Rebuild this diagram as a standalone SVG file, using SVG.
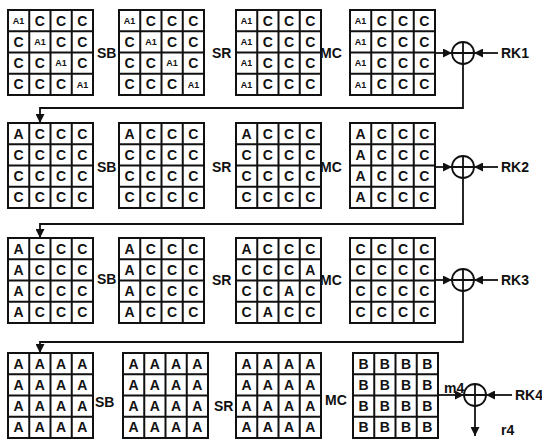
<svg xmlns="http://www.w3.org/2000/svg" xmlns:xlink="http://www.w3.org/1999/xlink" width="542" height="441" viewBox="0 0 542 441">
<style>
text{font-family:"Liberation Sans",Arial,sans-serif;font-weight:bold;fill:#111}
.c{font-size:14px;text-anchor:middle}
.a{font-size:9px;text-anchor:middle}
.l{font-size:14px}
.ln{stroke:#111;stroke-width:1.8;fill:none}
.x{fill:#fff;stroke:#111;stroke-width:1.8}
</style>
<defs>
<g id="grid">
<rect x="0" y="0" width="85" height="85" fill="#fff" stroke="#111" stroke-width="2"/>
<path d="M21.25 0V85M42.5 0V85M63.75 0V85M0 21.25H85M0 42.5H85M0 63.75H85" stroke="#111" stroke-width="2"/>
</g>
<marker id="ah" viewBox="0 0 10 10" refX="10" refY="5" markerWidth="5" markerHeight="5" orient="auto" markerUnits="strokeWidth">
<path d="M0 0L10 5L0 10z" fill="#111"/>
</marker>
</defs>

<!-- Row 1 -->
<g id="r1g1" transform="translate(8,10)"><use xlink:href="#grid"/>
<text class="a" x="10.6" y="13.9">A1</text><text class="c" x="31.9 53.1 74.4" y="15.6">CCC</text>
<text class="c" x="10.6" y="36.9">C</text><text class="a" x="31.9" y="35.2">A1</text><text class="c" x="53.1 74.4" y="36.9">CC</text>
<text class="c" x="10.6 31.9" y="58.1">CC</text><text class="a" x="53.1" y="56.4">A1</text><text class="c" x="74.4" y="58.1">C</text>
<text class="c" x="10.6 31.9 53.1" y="79.4">CCC</text><text class="a" x="74.4" y="77.7">A1</text>
</g>
<g id="r1g2" transform="translate(119,10)"><use xlink:href="#grid"/>
<text class="a" x="10.6" y="13.9">A1</text><text class="c" x="31.9 53.1 74.4" y="15.6">CCC</text>
<text class="c" x="10.6" y="36.9">C</text><text class="a" x="31.9" y="35.2">A1</text><text class="c" x="53.1 74.4" y="36.9">CC</text>
<text class="c" x="10.6 31.9" y="58.1">CC</text><text class="a" x="53.1" y="56.4">A1</text><text class="c" x="74.4" y="58.1">C</text>
<text class="c" x="10.6 31.9 53.1" y="79.4">CCC</text><text class="a" x="74.4" y="77.7">A1</text>
</g>
<g id="r1g3" transform="translate(236,10)"><use xlink:href="#grid"/>
<text class="a" x="10.6" y="13.9">A1</text><text class="c" x="31.9 53.1 74.4" y="15.6">CCC</text>
<text class="a" x="10.6" y="35.2">A1</text><text class="c" x="31.9 53.1 74.4" y="36.9">CCC</text>
<text class="a" x="10.6" y="56.4">A1</text><text class="c" x="31.9 53.1 74.4" y="58.1">CCC</text>
<text class="a" x="10.6" y="77.7">A1</text><text class="c" x="31.9 53.1 74.4" y="79.4">CCC</text>
</g>
<g id="r1g4" transform="translate(350,10)"><use xlink:href="#grid"/>
<text class="a" x="10.6" y="13.9">A1</text><text class="c" x="31.9 53.1 74.4" y="15.6">CCC</text>
<text class="a" x="10.6" y="35.2">A1</text><text class="c" x="31.9 53.1 74.4" y="36.9">CCC</text>
<text class="a" x="10.6" y="56.4">A1</text><text class="c" x="31.9 53.1 74.4" y="58.1">CCC</text>
<text class="a" x="10.6" y="77.7">A1</text><text class="c" x="31.9 53.1 74.4" y="79.4">CCC</text>
</g>

<!-- Row 2 -->
<g id="r2g1" transform="translate(8,123)"><use xlink:href="#grid"/>
<text class="c" x="10.6 31.9 53.1 74.4" y="15.6">ACCC</text>
<text class="c" x="10.6 31.9 53.1 74.4" y="36.9">CCCC</text>
<text class="c" x="10.6 31.9 53.1 74.4" y="58.1">CCCC</text>
<text class="c" x="10.6 31.9 53.1 74.4" y="79.4">CCCC</text>
</g>
<g id="r2g2" transform="translate(119,123)"><use xlink:href="#grid"/>
<text class="c" x="10.6 31.9 53.1 74.4" y="15.6">ACCC</text>
<text class="c" x="10.6 31.9 53.1 74.4" y="36.9">CCCC</text>
<text class="c" x="10.6 31.9 53.1 74.4" y="58.1">CCCC</text>
<text class="c" x="10.6 31.9 53.1 74.4" y="79.4">CCCC</text>
</g>
<g id="r2g3" transform="translate(236,123)"><use xlink:href="#grid"/>
<text class="c" x="10.6 31.9 53.1 74.4" y="15.6">ACCC</text>
<text class="c" x="10.6 31.9 53.1 74.4" y="36.9">CCCC</text>
<text class="c" x="10.6 31.9 53.1 74.4" y="58.1">CCCC</text>
<text class="c" x="10.6 31.9 53.1 74.4" y="79.4">CCCC</text>
</g>
<g id="r2g4" transform="translate(350,123)"><use xlink:href="#grid"/>
<text class="c" x="10.6 31.9 53.1 74.4" y="15.6">ACCC</text>
<text class="c" x="10.6 31.9 53.1 74.4" y="36.9">ACCC</text>
<text class="c" x="10.6 31.9 53.1 74.4" y="58.1">ACCC</text>
<text class="c" x="10.6 31.9 53.1 74.4" y="79.4">ACCC</text>
</g>

<!-- Row 3 -->
<g id="r3g1" transform="translate(8,238)"><use xlink:href="#grid"/>
<text class="c" x="10.6 31.9 53.1 74.4" y="15.6">ACCC</text>
<text class="c" x="10.6 31.9 53.1 74.4" y="36.9">ACCC</text>
<text class="c" x="10.6 31.9 53.1 74.4" y="58.1">ACCC</text>
<text class="c" x="10.6 31.9 53.1 74.4" y="79.4">ACCC</text>
</g>
<g id="r3g2" transform="translate(119,238)"><use xlink:href="#grid"/>
<text class="c" x="10.6 31.9 53.1 74.4" y="15.6">ACCC</text>
<text class="c" x="10.6 31.9 53.1 74.4" y="36.9">ACCC</text>
<text class="c" x="10.6 31.9 53.1 74.4" y="58.1">ACCC</text>
<text class="c" x="10.6 31.9 53.1 74.4" y="79.4">ACCC</text>
</g>
<g id="r3g3" transform="translate(236,238)"><use xlink:href="#grid"/>
<text class="c" x="10.6 31.9 53.1 74.4" y="15.6">ACCC</text>
<text class="c" x="10.6 31.9 53.1 74.4" y="36.9">CCCA</text>
<text class="c" x="10.6 31.9 53.1 74.4" y="58.1">CCAC</text>
<text class="c" x="10.6 31.9 53.1 74.4" y="79.4">CACC</text>
</g>
<g id="r3g4" transform="translate(350,238)"><use xlink:href="#grid"/>
<text class="c" x="10.6 31.9 53.1 74.4" y="15.6">CCCC</text>
<text class="c" x="10.6 31.9 53.1 74.4" y="36.9">CCCC</text>
<text class="c" x="10.6 31.9 53.1 74.4" y="58.1">CCCC</text>
<text class="c" x="10.6 31.9 53.1 74.4" y="79.4">CCCC</text>
</g>

<!-- Row 4 -->
<g id="r4g1" transform="translate(8,353)"><use xlink:href="#grid"/>
<text class="c" x="10.6 31.9 53.1 74.4" y="15.6">AAAA</text>
<text class="c" x="10.6 31.9 53.1 74.4" y="36.9">AAAA</text>
<text class="c" x="10.6 31.9 53.1 74.4" y="58.1">AAAA</text>
<text class="c" x="10.6 31.9 53.1 74.4" y="79.4">AAAA</text>
</g>
<g id="r4g2" transform="translate(123,353)"><use xlink:href="#grid"/>
<text class="c" x="10.6 31.9 53.1 74.4" y="15.6">AAAA</text>
<text class="c" x="10.6 31.9 53.1 74.4" y="36.9">AAAA</text>
<text class="c" x="10.6 31.9 53.1 74.4" y="58.1">AAAA</text>
<text class="c" x="10.6 31.9 53.1 74.4" y="79.4">AAAA</text>
</g>
<g id="r4g3" transform="translate(236,353)"><use xlink:href="#grid"/>
<text class="c" x="10.6 31.9 53.1 74.4" y="15.6">AAAA</text>
<text class="c" x="10.6 31.9 53.1 74.4" y="36.9">AAAA</text>
<text class="c" x="10.6 31.9 53.1 74.4" y="58.1">AAAA</text>
<text class="c" x="10.6 31.9 53.1 74.4" y="79.4">AAAA</text>
</g>
<g id="r4g4" transform="translate(353,353)"><use xlink:href="#grid"/>
<text class="c" x="10.6 31.9 53.1 74.4" y="15.6">BBBB</text>
<text class="c" x="10.6 31.9 53.1 74.4" y="36.9">BBBB</text>
<text class="c" x="10.6 31.9 53.1 74.4" y="58.1">BBBB</text>
<text class="c" x="10.6 31.9 53.1 74.4" y="79.4">BBBB</text>
</g>

<!-- Operation labels -->
<g id="labels">
<text class="l" x="97" y="58">SB</text>
<text class="l" x="212" y="58">SR</text>
<text class="l" x="320" y="58">MC</text>
<text class="l" x="97" y="172">SB</text>
<text class="l" x="212" y="172">SR</text>
<text class="l" x="320" y="172">MC</text>
<text class="l" x="97" y="284">SB</text>
<text class="l" x="212" y="285">SR</text>
<text class="l" x="320" y="285">MC</text>
<text class="l" x="95" y="407">SB</text>
<text class="l" x="214" y="411">SR</text>
<text class="l" x="325" y="405">MC</text>
<text class="l" x="501" y="58">RK1</text>
<text class="l" x="501" y="172">RK2</text>
<text class="l" x="501" y="285">RK3</text>
<text class="l" x="515" y="400">RK4</text>
<text class="l" x="444" y="393">m4</text>
<text class="l" x="501" y="435">r4</text>
</g>

<!-- XOR nodes -->
<g id="xor1"><circle class="x" cx="463" cy="53" r="11"/><path class="ln" d="M452 53H474M463 42V64"/></g>
<g id="xor2"><circle class="x" cx="463" cy="167" r="11"/><path class="ln" d="M452 167H474M463 156V178"/></g>
<g id="xor3"><circle class="x" cx="463" cy="280" r="11"/><path class="ln" d="M452 280H474M463 269V291"/></g>
<g id="xor4"><circle class="x" cx="475" cy="395" r="11"/><path class="ln" d="M464 395H486M475 384V406"/></g>

<!-- Connectors -->
<g id="connectors">
<path class="ln" d="M435 53H452" marker-end="url(#ah)"/>
<path class="ln" d="M498 53H474" marker-end="url(#ah)"/>
<path class="ln" d="M463 64V108H40V123" marker-end="url(#ah)"/>
<path class="ln" d="M435 167H452" marker-end="url(#ah)"/>
<path class="ln" d="M498 167H474" marker-end="url(#ah)"/>
<path class="ln" d="M463 178V224H40V238" marker-end="url(#ah)"/>
<path class="ln" d="M435 280H452" marker-end="url(#ah)"/>
<path class="ln" d="M498 280H474" marker-end="url(#ah)"/>
<path class="ln" d="M463 291V342H40V353" marker-end="url(#ah)"/>
<path class="ln" d="M438 395H464" marker-end="url(#ah)"/>
<path class="ln" d="M512 395H486" marker-end="url(#ah)"/>
<path class="ln" d="M475 406V436" marker-end="url(#ah)"/>
</g>
</svg>
